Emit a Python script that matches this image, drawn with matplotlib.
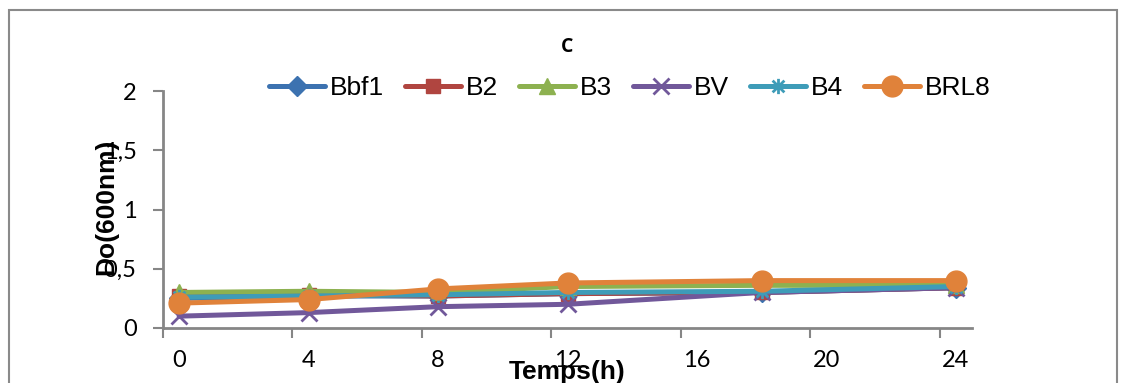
import numpy as np
import matplotlib
matplotlib.use('Agg')
import matplotlib.pyplot as plt
from matplotlib.path import Path
from matplotlib.patches import Rectangle

# data
hours = [0, 4, 8, 12, 18, 24]
bbf1 = [0.25, 0.27, 0.27, 0.29, 0.30, 0.34]
b2 = [0.27, 0.28, 0.27, 0.29, 0.30, 0.34]
b3 = [0.30, 0.31, 0.30, 0.35, 0.36, 0.36]
bv = [0.10, 0.13, 0.18, 0.20, 0.30, 0.34]
b4 = [0.26, 0.27, 0.28, 0.30, 0.31, 0.35]
brl8 = [0.21, 0.24, 0.33, 0.38, 0.40, 0.40]
xticks = [0, 4, 8, 12, 16, 20, 24]
yticks = [0, 0.5, 1, 1.5, 2]
ytick_labels = ['0', '0,5', '1', '1,5', '2']

# excel style asterisk marker (x plus vertical bar)
star = Path([(-1, -1), (1, 1), (-1, 1), (1, -1), (0, -1.3), (0, 1.3)],
            [Path.MOVETO, Path.LINETO, Path.MOVETO, Path.LINETO, Path.MOVETO, Path.LINETO])

series = [
    ('Bbf1', bbf1, '#3C72B0', 'D', 10),
    ('B2', b2, '#B04540', 's', 10),
    ('B3', b3, '#8DB150', '^', 11),
    ('BV', bv, '#71589A', 'x', 11),
    ('B4', b4, '#3E9CB8', star, 11),
    ('BRL8', brl8, '#E0823A', 'o', 15),
]

fig = plt.figure(figsize=(11.23, 3.83), dpi=100)
ax = fig.add_axes([163/1123, 1-328/383, (972-163)/1123, (328-91)/383])

lines = []
for name, vals, col, mk, ms in series:
    l, = ax.plot(hours, vals, color=col, lw=3.6, marker=mk, markersize=ms,
                 markeredgewidth=2 if mk in ('x',) or mk is star else 1,
                 markeredgecolor=col, markerfacecolor=col,
                 solid_capstyle='round', label=name)
    lines.append(l)

ax.set_xlim(-0.5, 24.5)
ax.set_ylim(0, 2)
ax.set_xticks(xticks)
ax.set_xticklabels([str(t) for t in xticks], fontfamily='Lato', fontsize=17)
ax.set_xticks(np.arange(-0.5, 25, 4), minor=True)
ax.tick_params(axis='x', which='major', length=0, pad=16)
ax.tick_params(axis='x', which='minor', length=7, width=1.5, color='#868686')
ax.set_yticks(yticks)
ax.set_yticklabels(ytick_labels, fontfamily='Lato', fontsize=17)
ax.tick_params(axis='y', length=7, width=1.5, color='#868686', pad=12)

for s in ['top', 'right']:
    ax.spines[s].set_visible(False)
for s in ['left', 'bottom']:
    ax.spines[s].set_color('#868686')
    ax.spines[s].set_linewidth(2)

fig.text(567/1123, 1-47/383, 'C', fontfamily='Open Sans', fontweight='bold',
         fontsize=14, ha='center', va='center')
fig.text(106/1123, 1-207/383, 'Do(600nm)', fontfamily='Liberation Sans',
         fontweight='bold', fontsize=19, rotation=90, ha='center', va='center')
fig.text(567/1123, 1-372/383, 'Temps(h)', fontfamily='Liberation Sans',
         fontweight='bold', fontsize=19, ha='center', va='center')

fig.legend(handles=lines, loc='center', bbox_to_anchor=(630/1123, 1-88/383),
           ncol=6, frameon=False, prop={'family': 'Liberation Sans', 'size': 19},
           handlelength=2.1, handletextpad=0.2, columnspacing=0.8,
           borderpad=0, borderaxespad=0)

# chart area border
fig.patches.append(Rectangle((9/1123, -0.1), (1117-9)/1123, 1.1-10/383,
                             transform=fig.transFigure, fill=False,
                             edgecolor='#8a8a8a', lw=1.5))

fig.savefig('out.png', dpi=100)
